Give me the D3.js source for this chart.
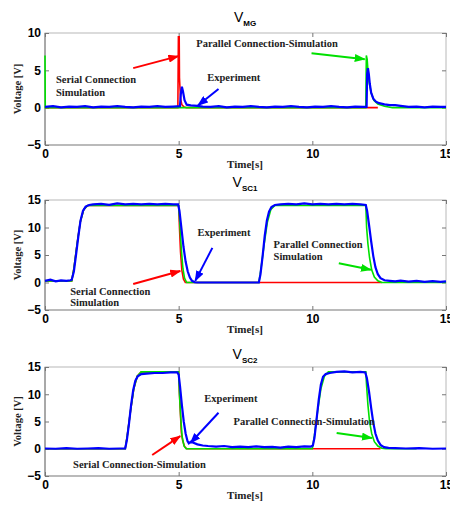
<!DOCTYPE html>
<html>
<head>
<meta charset="utf-8">
<script src="https://cdn.jsdelivr.net/npm/d3@7"></script>
<style>
body { margin: 0; background: #fff; }
.tick text { font-family: "Liberation Sans", Arial, sans-serif; font-size: 12px; font-weight: bold; fill: #000; }
.note { font-family: "Liberation Serif", "Times New Roman", serif; font-size: 10.5px; font-weight: bold; fill: #222; }
</style>
</head>
<body>
<svg width="450" height="506"></svg>
<script>
// tick labels
var xTicks = [0, 5, 10, 15];
var yTicksMG = [-5, 0, 5, 10];
var yTicksSC = [-5, 0, 5, 10, 15];

// V_MG : [time s, voltage V]
var mgSerial = [[0,0],[4.97,0],[4.99,9.5],[5.02,9.5],[5.03,4],[5.07,1.2],[5.12,0.4],[5.2,0.1],[5.3,0],[12.45,0]];
var mgParallel = [[0,7],[0.01,0],[5.0,0],[12.0,0],[12.02,7],[12.05,6.5],[12.08,5],[12.12,3.5],[12.2,2],[12.3,1],[12.45,0.5],[12.7,0.2],[13.0,0],[15,0]];
var mgExp = [[0,0.1],[0.3,0.2],[0.6,0.05],[0.9,0.15],[1.2,0.1],[1.5,0.2],[1.8,0.05],[2.1,0.15],[2.4,0.1],[2.7,0.2],[3.0,0.1],[3.3,0.05],[3.6,0.15],[3.9,0.1],[4.2,0.2],[4.5,0.1],[4.8,0.15],[5.05,0.2],[5.08,1.8],[5.12,2.8],[5.16,2.2],[5.22,1.0],[5.3,0.4],[5.45,0.3],[5.7,0.25],[5.9,0.15],[6.2,0.1],[6.5,0.2],[6.8,0.05],[7.1,0.15],[7.4,0.1],[7.7,0.2],[8.0,0.1],[8.3,0.05],[8.6,0.15],[8.9,0.1],[9.2,0.2],[9.5,0.1],[9.8,0.05],[10.1,0.15],[10.4,0.1],[10.7,0.2],[11.0,0.1],[11.3,0.05],[11.6,0.15],[11.9,0.1],[12.03,0.1],[12.05,4.5],[12.08,5.3],[12.11,4.6],[12.15,3.2],[12.2,2.0],[12.28,1.2],[12.38,0.8],[12.5,0.6],[12.7,0.45],[12.9,0.35],[13.1,0.35],[13.3,0.25],[13.6,0.1],[13.9,0.15],[14.2,0.05],[14.5,0.15],[14.8,0.1],[15,0.1]];

// V_SC1
var sc1Serial = [[0,0.3],[1.0,0.3],[1.08,2.5],[1.2,7],[1.32,11],[1.45,13.3],[1.6,14],[5.0,14],[5.03,10],[5.07,5.5],[5.12,2.2],[5.18,0.6],[5.25,0],[12.6,0]];
var sc1Parallel = [[0,0.3],[1.0,0.3],[1.08,2.5],[1.2,7],[1.32,11],[1.45,13.3],[1.6,14],[5.0,14],[5.04,11],[5.1,6],[5.16,2.5],[5.22,0.8],[5.3,0],[8.0,0],[8.08,2.5],[8.2,7],[8.32,11],[8.45,13.3],[8.6,14],[12.0,14],[12.03,10],[12.08,7],[12.14,4.5],[12.22,2.3],[12.32,1.0],[12.45,0.3],[12.6,0],[15,0]];
var sc1Exp = [[0,0.3],[0.2,0.5],[0.4,0.2],[0.6,0.4],[0.8,0.3],[0.95,0.4],[1.0,0.5],[1.08,2],[1.16,5],[1.25,8.5],[1.33,11.3],[1.42,13],[1.52,13.8],[1.65,14.1],[1.8,14.2],[2.1,14.3],[2.4,14.1],[2.7,14.4],[3.0,14.2],[3.3,14.3],[3.6,14.2],[3.9,14.3],[4.2,14.2],[4.5,14.3],[4.8,14.2],[4.98,14.2],[5.03,13],[5.1,10],[5.18,6.5],[5.26,3.8],[5.34,2],[5.42,0.9],[5.5,0.3],[5.6,0.05],[5.7,0],[8.0,0],[8.06,1.5],[8.14,4.8],[8.22,8.5],[8.3,11.3],[8.38,12.9],[8.47,13.7],[8.6,14.1],[8.8,14.2],[9.1,14.3],[9.4,14.2],[9.7,14.4],[10.0,14.2],[10.3,14.3],[10.6,14.2],[10.9,14.3],[11.2,14.2],[11.5,14.3],[11.8,14.2],[12.0,14.1],[12.05,13],[12.12,10.5],[12.2,7.5],[12.28,4.8],[12.36,2.8],[12.45,1.5],[12.55,0.8],[12.7,0.4],[12.9,0.3],[13.1,0.2],[13.3,0.35],[13.6,0.15],[13.9,0.3],[14.2,0.1],[14.5,0.25],[14.8,0.1],[15,0.2]];

// V_SC2
var sc2Serial = [[0,0],[3.0,0],[3.08,2.5],[3.2,7],[3.32,11],[3.45,13.3],[3.6,14.1],[5.0,14.1],[5.03,10],[5.07,6],[5.1,3],[5.15,1.5],[5.22,0.4],[5.3,0],[12.55,0]];
var sc2Parallel = [[0,0],[3.0,0],[3.08,2.5],[3.2,7],[3.32,11],[3.45,13.3],[3.6,14.1],[5.0,14.1],[5.03,10],[5.08,5.5],[5.13,2.2],[5.2,0.5],[5.28,0],[10.0,0],[10.08,2.5],[10.2,7],[10.32,11],[10.45,13.3],[10.6,14.1],[12.0,14.1],[12.03,11.5],[12.08,8],[12.14,5],[12.22,2.8],[12.32,1.3],[12.45,0.5],[12.6,0.1],[12.75,0],[13.9,0]];
var sc2Exp = [[0,0.05],[0.4,0],[0.8,0.1],[1.2,0],[1.6,0.05],[2.0,0.1],[2.4,0],[2.8,0.05],[3.0,0.05],[3.06,1.5],[3.14,4.5],[3.22,8],[3.3,10.8],[3.38,12.5],[3.47,13.3],[3.6,13.7],[3.8,13.8],[4.1,13.9],[4.4,13.9],[4.7,14],[4.95,14],[5.0,13.6],[5.05,11.5],[5.12,8],[5.19,5],[5.26,2.8],[5.33,1.4],[5.38,1.0],[5.45,1.3],[5.55,1.1],[5.7,0.8],[5.9,0.6],[6.1,0.5],[6.4,0.4],[6.7,0.5],[7.0,0.3],[7.3,0.4],[7.6,0.3],[7.9,0.45],[8.2,0.3],[8.5,0.35],[8.8,0.2],[9.1,0.4],[9.4,0.3],[9.7,0.45],[9.95,0.4],[10.02,0.6],[10.08,2],[10.16,5.5],[10.24,9],[10.32,11.8],[10.4,13.2],[10.5,13.7],[10.65,13.9],[10.9,14.1],[11.2,14.2],[11.5,14],[11.8,14.1],[11.98,14],[12.04,13],[12.12,10.5],[12.2,7.5],[12.28,4.8],[12.36,2.8],[12.45,1.5],[12.55,0.7],[12.68,0.3],[12.85,0.15],[13.1,0.1],[13.5,0.05],[14,0.1],[14.5,0],[15,0.05]];

var svg = d3.select("svg");
var x = d3.scaleLinear().domain([0, 15]).range([45, 446]);

var colors = { red: "#ff0000", green: "#00e000", blue: "#0000ff" };

// arrow heads
var defs = svg.append("defs");
Object.keys(colors).forEach(function(k){
  defs.append("marker").attr("id", "head-" + k)
    .attr("markerUnits", "userSpaceOnUse")
    .attr("markerWidth", 12).attr("markerHeight", 8)
    .attr("refX", 10).attr("refY", 4).attr("orient", "auto")
    .append("path").attr("d", "M0,0 L11,4 L0,8 Z").attr("fill", colors[k]);
});

var panels = [
  { sub: "MG", top: 33, bottom: 145, titleY: 22, yDomain: [-5, 10], yTicks: yTicksMG,
    serial: mgSerial, parallel: mgParallel, exp: mgExp,
    notes: [["Serial Connection", 0.41, 3.3], ["Simulation", 0.41, 1.57], ["Experiment", 6.07, 3.6], ["Parallel Connection-Simulation", 5.66, 8.1]],
    arrows: [["red", 3.3, 5.3, 4.99, 6.9], ["blue", 6.49, 2.5, 5.72, 0.3], ["green", 9.97, 7.3, 11.96, 6.5]] },
  { sub: "SC1", top: 200, bottom: 310, titleY: 187, yDomain: [-5, 15], yTicks: yTicksSC,
    serial: sc1Serial, parallel: sc1Parallel, exp: sc1Exp,
    notes: [["Experiment", 5.7, 8.45], ["Serial Connection", 0.94, -2.3], ["Simulation", 0.94, -4.3], ["Parallel Connection", 8.55, 6.3], ["Simulation", 8.55, 4.1]],
    arrows: [["blue", 6.26, 6.3, 5.62, 0.3], ["red", 3.3, -0.27, 5.06, 2.1], ["green", 10.99, 3.5, 12.19, 2.3]] },
  { sub: "SC2", top: 367, bottom: 476, titleY: 359, yDomain: [-5, 15], yTicks: yTicksSC,
    serial: sc2Serial, parallel: sc2Parallel, exp: sc2Exp,
    notes: [["Experiment", 5.96, 8.6], ["Parallel Connection-Simulation", 7.05, 4.35], ["Serial Connection-Simulation", 1.05, -3.5]],
    arrows: [["blue", 6.49, 6.6, 5.44, 1.05], ["green", 10.91, 2.9, 12.23, 1.97], ["red", 4.01, -1.15, 5.06, 2.33]] }
];

panels.forEach(function(p){
  var y = d3.scaleLinear().domain(p.yDomain).range([p.bottom, p.top]);
  var g = svg.append("g");

  // title V with subscript
  var t = g.append("text").attr("x", 245).attr("y", p.titleY).attr("text-anchor", "middle")
    .style("font-family", "Liberation Sans, Arial, sans-serif").style("font-size", "14px");
  t.append("tspan").text("V");
  t.append("tspan").attr("dy", 4).style("font-size", "8px").style("font-weight", "bold").text(p.sub);

  // box: light top/right, darker axes
  g.append("rect").attr("x", 45).attr("y", p.top).attr("width", 401).attr("height", p.bottom - p.top)
    .attr("fill", "none").attr("stroke", "#b8b8b8");
  g.append("line").attr("x1", 45).attr("x2", 446).attr("y1", p.bottom).attr("y2", p.bottom).attr("stroke", "#999");
  g.append("line").attr("x1", 45).attr("x2", 45).attr("y1", p.top).attr("y2", p.bottom).attr("stroke", "#777");

  // axes, matlab style ticks inside
  g.append("g").attr("transform", "translate(0," + p.bottom + ")")
    .call(d3.axisBottom(x).tickValues(xTicks).tickSize(-4).tickPadding(4));
  g.append("g").attr("transform", "translate(0," + p.top + ")")
    .call(d3.axisTop(x).tickValues(xTicks).tickSize(-4).tickFormat(""));
  g.append("g").attr("transform", "translate(45,0)")
    .call(d3.axisLeft(y).tickValues(p.yTicks).tickSize(-4).tickPadding(4));
  g.append("g").attr("transform", "translate(446,0)")
    .call(d3.axisRight(y).tickValues(p.yTicks).tickSize(-4).tickFormat(""));
  g.selectAll(".domain").remove();
  g.selectAll(".tick line").attr("stroke", "#777");

  var line = d3.line().x(function(d){ return x(d[0]); }).y(function(d){ return y(d[1]); });
  g.append("path").datum(p.serial).attr("d", line).attr("fill", "none").attr("stroke", colors.red).attr("stroke-width", 1.6);
  g.append("path").datum(p.parallel).attr("d", line).attr("fill", "none").attr("stroke", colors.green).attr("stroke-width", 1.6);
  g.append("path").datum(p.exp).attr("d", line).attr("fill", "none").attr("stroke", colors.blue).attr("stroke-width", 2.2);

  // annotations
  p.arrows.forEach(function(a){
    g.append("line").attr("x1", x(a[1])).attr("y1", y(a[2])).attr("x2", x(a[3])).attr("y2", y(a[4]))
      .attr("stroke", colors[a[0]]).attr("stroke-width", 2).attr("marker-end", "url(#head-" + a[0] + ")");
  });
  p.notes.forEach(function(n){
    g.append("text").attr("class", "note").attr("x", x(n[1])).attr("y", y(n[2])).text(n[0]);
  });

  // axis labels
  g.append("text").attr("x", 245).attr("y", p.bottom + 23).attr("text-anchor", "middle")
    .attr("class", "note").style("font-size", "11px").text("Time[s]");
  g.append("text").attr("transform", "translate(21," + (p.top + p.bottom) / 2 + ") rotate(-90)")
    .attr("text-anchor", "middle").attr("class", "note").style("font-size", "10.5px").text("Voltage [V]");
});
</script>
</body>
</html>
